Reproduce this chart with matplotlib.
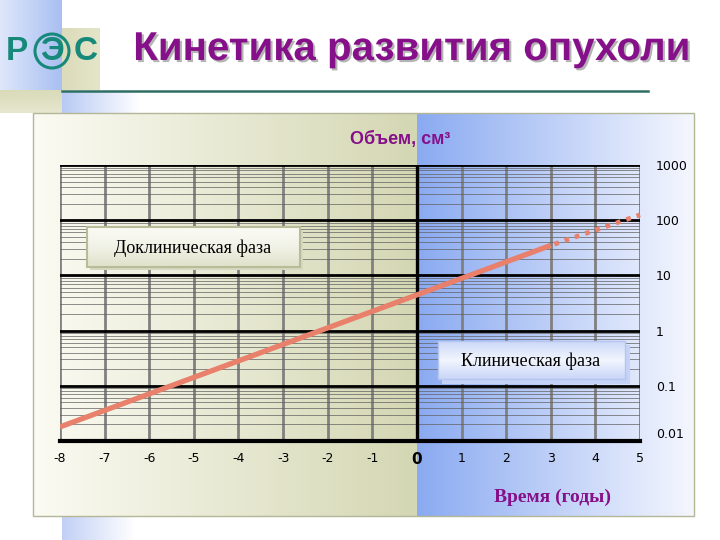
import numpy as np
import matplotlib
matplotlib.use("Agg")
import matplotlib.pyplot as plt
import matplotlib.patheffects as pe
from matplotlib.colors import to_rgb
from matplotlib.patches import Rectangle, Circle
from matplotlib.ticker import LogLocator, NullFormatter

# данные графика (годы / объем опухоли, см3)
years_solid = [-8, 3]
volume_solid = [0.018, 35]
years_dotted = [3, 5]
volume_dotted = [35, 125]
x_ticks = [-8, -7, -6, -5, -4, -3, -2, -1, 0, 1, 2, 3, 4, 5]
y_ticks = [0.01, 0.1, 1, 10, 100, 1000]
y_tick_labels = ['0.01', '0.1', '1', '10', '100', '1000']

W, H = 720, 540
PURPLE = '#86108a'
SALMON = '#e8806c'
TEAL = '#17897a'


def gradient(ax, x0, x1, y0, y1, colors, vertical=False, zorder=0):
    """Прямоугольник с линейным градиентом (координаты в пикселях)"""
    cols = np.array([to_rgb(c) for c in colors])
    t = np.linspace(0, 1, 256)
    pos = np.linspace(0, 1, len(cols))
    g = np.stack([np.interp(t, pos, cols[:, i]) for i in range(3)], axis=1)
    img = g[:, None, :] if vertical else g[None, :, :]
    ax.imshow(img, extent=(x0, x1, y1, y0), aspect='auto',
              interpolation='bilinear', zorder=zorder)


fig = plt.figure(figsize=(7.2, 5.4), dpi=100)

# --- фон слайда ---
bg = fig.add_axes([0, 0, 1, 1])
bg.axis('off')
gradient(bg, 0, 62, 0, 90, ['#dfe7fb', '#a9bff2'])
gradient(bg, 62, 100, 28, 90, ['#dcdcbc', '#e4e4c8'])
gradient(bg, 0, 62, 90, 113, ['#d9dbb8', '#e6e7cf'], vertical=True)
gradient(bg, 62, 140, 92, 113, ['#b8caf4', '#ffffff'])
gradient(bg, 62, 135, 516, 540, ['#c2d0f6', '#ffffff'])

# область диаграммы
gradient(bg, 33, 417, 113, 516, ['#fbfbf3', '#d4d7b3'])
gradient(bg, 417, 694, 113, 516, ['#8aaaf1', '#f5f7fe'])
bg.add_patch(Rectangle((33, 113), 661, 403, fill=False,
                       edgecolor='#b4b698', lw=1, zorder=2))

# линия под заголовком
bg.plot([62, 648], [91, 91], color='#2e6e62', lw=1.8, zorder=3)

# логотип
for lx, letter in [(17, 'Р'), (52, 'Э'), (86, 'С')]:
    bg.text(lx, 51, letter, ha='center', va='center', fontsize=24,
            fontweight='bold', color=TEAL, family='Liberation Sans', zorder=3)
bg.add_patch(Circle((52, 51), 17, fill=False, edgecolor=TEAL,
                    lw=2.2, zorder=3))

# заголовок с тенью
bg.text(411, 60, 'Кинетика развития опухоли', ha='center', va='baseline',
        fontsize=29, fontweight='bold', color=PURPLE,
        family='Liberation Sans', zorder=4,
        path_effects=[pe.withSimplePatchShadow(offset=(1.5, -1.5),
                                               shadow_rgbFace='#b4b4b4',
                                               alpha=1)])

bg.text(400, 139, 'Объем, см³', ha='center', va='center', fontsize=13,
        fontweight='bold', color=PURPLE, family='Liberation Sans')
bg.text(553, 497, 'Время (годы)', ha='center', va='center', fontsize=14,
        fontweight='bold', color=PURPLE, family='Liberation Serif')

bg.set_xlim(0, W)
bg.set_ylim(H, 0)

# --- сам график ---
ax = fig.add_axes([60 / W, 1 - 441 / H, 580 / W, 276 / H])
ax.patch.set_alpha(0)
ax.set_yscale('log')
ax.set_xlim(-8, 5)
ax.set_ylim(0.01, 1000)
ax.set_axisbelow(True)

ax.set_xticks(x_ticks)
ax.set_xticklabels([str(v) for v in x_ticks])
ax.set_yticks(y_ticks)
ax.set_yticklabels(y_tick_labels)
ax.yaxis.set_minor_locator(LogLocator(base=10, subs=np.arange(2, 10)))
ax.yaxis.set_minor_formatter(NullFormatter())

ax.grid(which='minor', axis='y', color='#606060', lw=0.5)
ax.grid(which='major', axis='y', color='black', lw=2)
ax.grid(which='major', axis='x', color='#808080', lw=2)
ax.axvline(0, color='black', lw=2.4, zorder=1.5)

for side in ['left', 'top', 'right']:
    ax.spines[side].set_visible(False)
ax.spines['bottom'].set_linewidth(3)

ax.tick_params(axis='y', which='both', left=False, right=False,
               labelleft=False, labelright=True, pad=8, labelsize=9)
ax.tick_params(axis='x', length=0, pad=8, labelsize=9)
for lab in ax.get_xticklabels():
    if lab.get_text() == '0':
        lab.set_fontweight('bold')
        lab.set_fontsize(11)
for lab in ax.get_yticklabels():
    if lab.get_text() == '0.01':
        lab.set_va('bottom')

ax.plot(years_solid, volume_solid, color=SALMON, lw=3.8,
        solid_capstyle='butt', zorder=3)
ax.plot(years_dotted, volume_dotted, color=SALMON, lw=3.4,
        ls=(1.5, (1, 1.3)), dash_capstyle='butt', zorder=3, clip_on=False)

# --- подписи фаз ---
fg = fig.add_axes([0, 0, 1, 1])
fg.patch.set_alpha(0)
fg.axis('off')
gradient(fg, 90, 303, 230, 270, ['#d6d8bf', '#d6d8bf'], zorder=1)
gradient(fg, 87, 300, 227, 267, ['#fbfbf6', '#f1f2e6', '#dfe1ca'],
         vertical=True, zorder=2)
fg.add_patch(Rectangle((87, 227), 213, 40, fill=False,
                       edgecolor='#b9bc98', lw=1.5, zorder=3))
fg.text(193, 248, 'Доклиническая фаза', ha='center', va='center',
        fontsize=13, family='Liberation Serif', zorder=4)

gradient(fg, 442, 630, 345, 384, ['#c4d3f7', '#c4d3f7'], zorder=1)
gradient(fg, 438, 625, 341, 379, ['#cbd8f8', '#f2f5fe', '#c9d6f8'],
         vertical=True, zorder=2)
fg.add_patch(Rectangle((438, 341), 187, 38, fill=False,
                       edgecolor='#b5c5ef', lw=1, zorder=3))
fg.text(531, 361, 'Клиническая фаза', ha='center', va='center',
        fontsize=13, family='Liberation Serif', zorder=4)
fg.set_xlim(0, W)
fg.set_ylim(H, 0)

fig.savefig('out.png', dpi=100)
